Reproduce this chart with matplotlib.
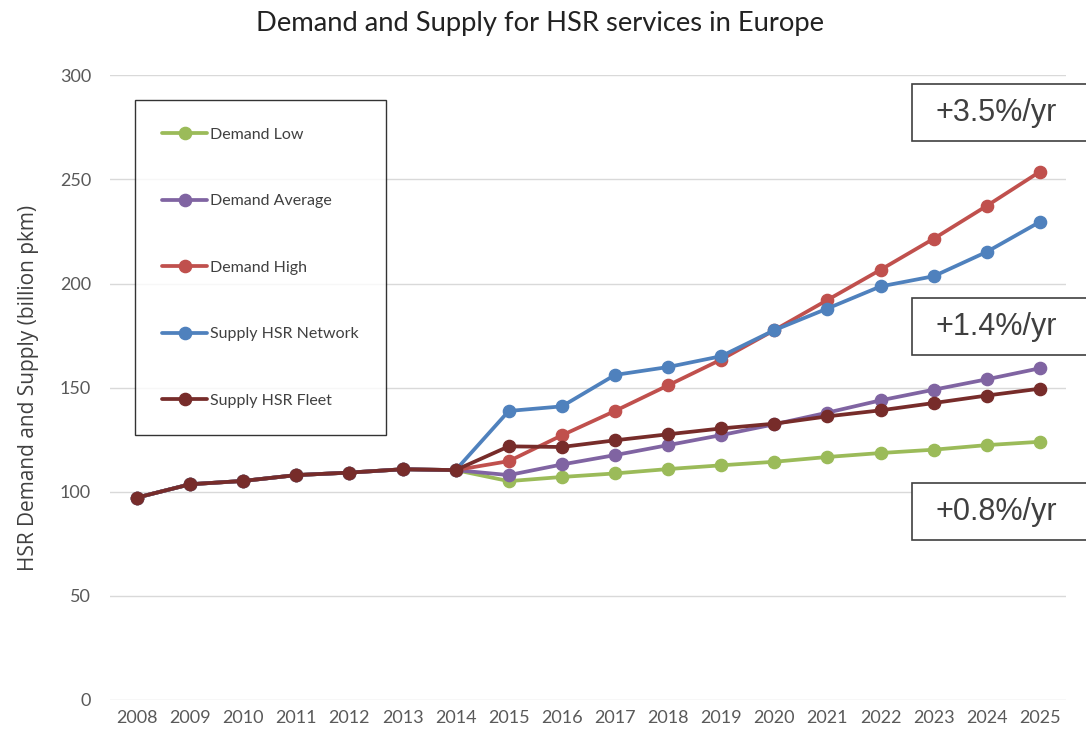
import matplotlib
matplotlib.use("Agg")
import matplotlib.pyplot as plt
import matplotlib.patches as mpatches
import numpy as np

years = list(range(2008, 2026))

# observed values 2008-2014 (shared by all series)
history = [97.2, 103.6, 105.2, 108.0, 109.2, 110.8, 110.4]

# projections 2015-2025
demand_low = [105.1, 107.1, 108.8, 110.9, 112.7, 114.4, 116.7, 118.6, 120.2, 122.4, 124.0]
demand_avg = [108.0, 113.1, 117.6, 122.4, 127.2, 132.4, 138.0, 143.9, 149.0, 154.0, 159.3]
demand_high = [114.7, 127.1, 138.8, 151.1, 163.5, 177.6, 192.1, 206.6, 221.5, 237.3, 253.7]
supply_network = [138.8, 141.0, 156.1, 159.9, 165.1, 177.6, 188.0, 198.6, 203.5, 215.2, 229.6]
supply_fleet = [121.8, 121.5, 124.7, 127.6, 130.4, 132.7, 136.2, 139.1, 142.6, 146.2, 149.5]

series_names = ["Demand Low", "Demand Average", "Demand High",
                "Supply HSR Network", "Supply HSR Fleet"]
series_values = [demand_low, demand_avg, demand_high, supply_network, supply_fleet]
series_colors = ["#9BBB59", "#8064A2", "#C0504D", "#4F81BD", "#772C2A"]

growth_labels = ["+3.5%/yr", "+1.4%/yr", "+0.8%/yr"]

plt.rcParams["font.family"] = ["Lato", "DejaVu Sans"]

fig = plt.figure(figsize=(10.86, 7.38), dpi=100)
ax = fig.add_axes([0.1017, 0.0515, 0.8803, 0.8465])

for name, vals, color in zip(series_names, series_values, series_colors):
    ax.plot(years, history + vals, color=color, lw=2.7, marker="o",
            markersize=8.8, label=name, solid_capstyle="round")

ax.set_xlim(2007.5, 2025.5)
ax.set_ylim(0, 300)
ax.set_yticks(range(0, 301, 50))
ax.set_xticks(years)
ax.grid(axis="y", color="#d9d9d9", lw=1)
ax.set_axisbelow(True)
for s in ax.spines.values():
    s.set_visible(False)
ax.tick_params(length=0, colors="#595959", labelsize=13)
ax.tick_params(axis="y", pad=14)
ax.tick_params(axis="x", pad=7)
ax.set_ylabel("HSR Demand and Supply (billion pkm)", fontsize=15, color="#404040",
              labelpad=15, family=["Open Sans", "DejaVu Sans"])

fig.suptitle("Demand and Supply for HSR services in Europe", y=0.985,
             fontsize=19.7, color="#222222", x=0.497)

leg = ax.legend(loc="upper left", bbox_to_anchor=(135 / 1086, 1 - 100 / 738),
                bbox_transform=fig.transFigure, fontsize=11.5, frameon=True,
                fancybox=False, edgecolor="black", labelspacing=3.28,
                handlelength=2.8, handletextpad=0.2, borderpad=1.72,
                borderaxespad=0)
leg.get_frame().set_linewidth(1.0)
for t in leg.get_texts():
    t.set_color("#404040")

# growth-rate boxes on the right
box_tops = [84, 298, 483]
for label, top in zip(growth_labels, box_tops):
    rect = mpatches.Rectangle((912 / 1086, 1 - (top + 57) / 738), 0.2, 57 / 738,
                              transform=fig.transFigure, fill=True, facecolor="white",
                              edgecolor="#404040", lw=1.2, clip_on=False)
    fig.patches.append(rect)
    fig.text(996 / 1086, 1 - (top + 29) / 738, label, fontsize=22,
             family=["Liberation Sans", "DejaVu Sans"], color="#404040",
             ha="center", va="center")

fig.savefig("out.png", dpi=100)
